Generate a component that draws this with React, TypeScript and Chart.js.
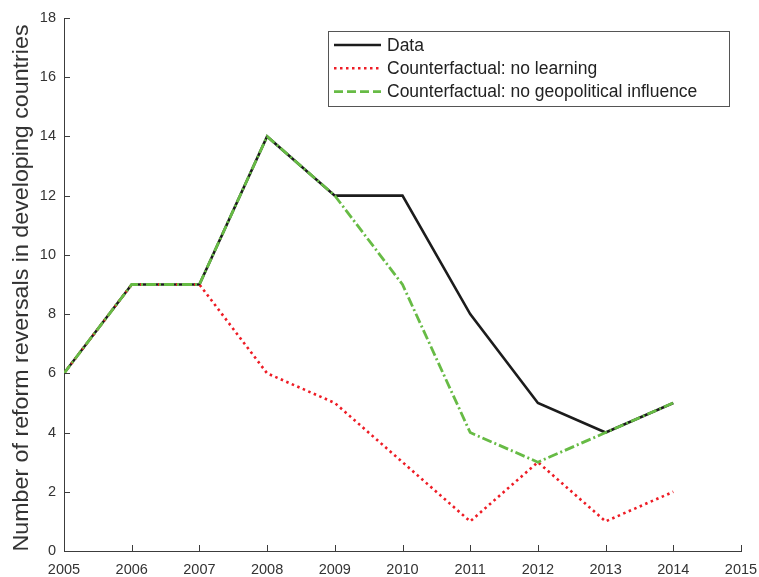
import React, { useEffect, useRef } from "react";
import { Chart, registerables } from "chart.js";

Chart.register(...registerables);

const years = [2005, 2006, 2007, 2008, 2009, 2010, 2011, 2012, 2013, 2014];
const dataValues = [6, 9, 9, 14, 12, 12, 8, 5, 4, 5];
const noLearningValues = [6, 9, 9, 6, 5, 3, 1, 3, 1, 2];
const noGeoValues = [6, 9, 9, 14, 12, 9, 4, 3, 4, 5];
const seriesLabels = [
  "Data",
  "Counterfactual: no learning",
  "Counterfactual: no geopolitical influence",
];
const xTickValues = [2005, 2006, 2007, 2008, 2009, 2010, 2011, 2012, 2013, 2014, 2015];
const yTickValues = [0, 2, 4, 6, 8, 10, 12, 14, 16, 18];
const yAxisTitle = "Number of reform reversals in developing countries";

const FONT = '"Liberation Sans", Arial, Helvetica, sans-serif';
const AXIS_COLOR = "#3c3c3c";
const TEXT_COLOR = "#333333";

const BLACK = "#1c1c1c";
const RED = "#ee1c25";
const GREEN = "#67bb45";

const legendDashes = [[], [2.5, 3.5], [9, 4]];

const innerTicks = {
  id: "innerTicks",
  afterDraw(chart: any) {
    const { ctx, chartArea, scales } = chart;
    ctx.save();
    ctx.strokeStyle = AXIS_COLOR;
    ctx.lineWidth = 1;
    ctx.beginPath();
    for (const v of xTickValues) {
      const x = Math.round(scales.x.getPixelForValue(v)) + 0.5;
      ctx.moveTo(x, chartArea.bottom);
      ctx.lineTo(x, chartArea.bottom - 6);
    }
    for (const v of yTickValues) {
      const y = Math.round(scales.y.getPixelForValue(v)) + 0.5;
      ctx.moveTo(chartArea.left, y);
      ctx.lineTo(chartArea.left + 6, y);
    }
    ctx.stroke();
    ctx.restore();
  },
};

const stretchedYTitle = {
  id: "stretchedYTitle",
  afterDraw(chart: any) {
    const { ctx, chartArea } = chart;
    const text = chart.options.scales.y.title.text;
    const length = 527;
    const cy = (chartArea.top + chartArea.bottom) / 2 + 3.5;
    ctx.save();
    ctx.translate(28, cy);
    ctx.rotate(-Math.PI / 2);
    ctx.font = `21.5px ${FONT}`;
    const w = ctx.measureText(text).width;
    ctx.scale(length / w, 1);
    ctx.textAlign = "center";
    ctx.textBaseline = "alphabetic";
    ctx.fillStyle = TEXT_COLOR;
    ctx.fillText(text, 0, 0);
    ctx.restore();
  },
};

const boxLegend = {
  id: "boxLegend",
  afterDraw(chart: any) {
    const { ctx } = chart;
    const left = 328.5;
    const top = 31.5;
    const width = 401;
    const height = 75;
    ctx.save();
    ctx.fillStyle = "#ffffff";
    ctx.fillRect(left, top, width, height);
    ctx.strokeStyle = "#555555";
    ctx.lineWidth = 1;
    ctx.strokeRect(left, top, width, height);
    ctx.font = `17.5px ${FONT}`;
    ctx.textBaseline = "middle";
    ctx.textAlign = "left";
    chart.data.datasets.forEach((ds: any, i: number) => {
      const y = top + 13.5 + i * 23.3;
      ctx.beginPath();
      ctx.strokeStyle = ds.borderColor;
      ctx.lineWidth = 2.6;
      ctx.setLineDash(legendDashes[i]);
      ctx.moveTo(334, y);
      ctx.lineTo(381, y);
      ctx.stroke();
      ctx.setLineDash([]);
      ctx.fillStyle = "#222222";
      ctx.fillText(ds.label, 387, y + 1);
    });
    ctx.restore();
  },
};

export default function App() {
  const canvasRef = useRef<HTMLCanvasElement | null>(null);

  useEffect(() => {
    if (!canvasRef.current) return;
    const mk = (vals: number[]) => years.map((x, i) => ({ x, y: vals[i] }));
    const chart = new Chart(canvasRef.current, {
      type: "line",
      data: {
        datasets: [
          {
            label: seriesLabels[0],
            data: mk(dataValues),
            borderColor: BLACK,
            borderWidth: 2.6,
            pointRadius: 0,
            order: 3,
          },
          {
            label: seriesLabels[1],
            data: mk(noLearningValues),
            borderColor: RED,
            borderWidth: 2.6,
            borderDash: [2.5, 3.5],
            pointRadius: 0,
            order: 2,
          },
          {
            label: seriesLabels[2],
            data: mk(noGeoValues),
            borderColor: GREEN,
            borderWidth: 2.8,
            borderDash: [10, 3, 2, 3],
            pointRadius: 0,
            order: 1,
          },
        ],
      },
      options: {
        animation: false,
        responsive: false,
        devicePixelRatio: 1,
        layout: { padding: { top: 18, right: 18, left: 0, bottom: 0 } },
        plugins: { legend: { display: false }, tooltip: { enabled: false } },
        scales: {
          x: {
            type: "linear",
            min: 2005,
            max: 2015,
            afterFit: (s: any) => {
              s.height = 26;
              s.paddingLeft = 0;
              s.paddingRight = 0;
            },
            afterBuildTicks: (s: any) => {
              s.ticks = xTickValues.map((v) => ({ value: v }));
            },
            ticks: {
              callback: (v: any) => String(v),
              font: { family: FONT, size: 14.5 },
              color: TEXT_COLOR,
              padding: 10,
              maxRotation: 0,
              autoSkip: false,
            },
            grid: { display: false, drawTicks: false },
            border: { display: true, color: AXIS_COLOR, width: 1 },
          },
          y: {
            type: "linear",
            min: 0,
            max: 18,
            afterFit: (s: any) => {
              s.width = 64;
              s.paddingTop = 0;
              s.paddingBottom = 0;
            },
            afterBuildTicks: (s: any) => {
              s.ticks = yTickValues.map((v) => ({ value: v }));
            },
            ticks: {
              callback: (v: any) => String(v),
              font: { family: FONT, size: 14.5 },
              color: TEXT_COLOR,
              padding: 8,
              autoSkip: false,
            },
            grid: { display: false, drawTicks: false },
            border: { display: true, color: AXIS_COLOR, width: 1 },
            title: {
              display: false,
              text: yAxisTitle,
            },
          },
        },
      },
      plugins: [innerTicks, stretchedYTitle, boxLegend],
    });
    return () => chart.destroy();
  }, []);

  return (
    <div style={{ position: "absolute", left: 0, top: 0, width: 759, height: 577, background: "#fff" }}>
      <canvas ref={canvasRef} width={759} height={577} style={{ width: 759, height: 577 }} />
    </div>
  );
}
